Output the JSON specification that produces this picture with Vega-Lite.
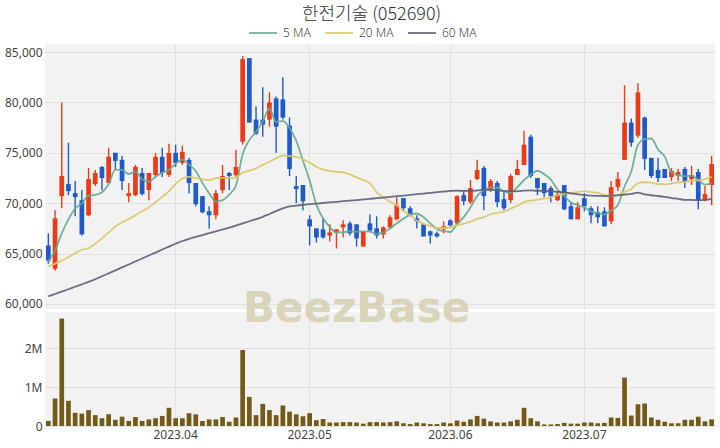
{
  "$schema": "https://vega.github.io/schema/vega-lite/v6.json",
  "background": "white",
  "padding": {"left": 0, "top": 6, "right": 5, "bottom": 3},
  "bounds": "flush",
  "title": {"text": "한전기술 (052690)", "anchor": "middle", "font": "Noto Sans CJK KR", "fontSize": 18, "fontWeight": 300, "color": "#333333", "offset": -6, "dx": 14},
  "datasets": {
    "d": [
      {"date":"2023-03-07","open":65800,"high":67000,"low":64000,"close":64300,"volume":130000,"ma5":64200,"ma20":63700,"ma60":60750},
      {"date":"2023-03-08","open":63500,"high":69300,"low":63300,"close":68500,"volume":710000,"ma5":65300,"ma20":64000,"ma60":60990},
      {"date":"2023-03-09","open":70700,"high":80000,"low":69500,"close":72700,"volume":2770000,"ma5":67000,"ma20":64300,"ma60":61230},
      {"date":"2023-03-10","open":71900,"high":76000,"low":70800,"close":71200,"volume":650000,"ma5":68400,"ma20":64630,"ma60":61460},
      {"date":"2023-03-13","open":71000,"high":72200,"low":68700,"close":70600,"volume":340000,"ma5":69460,"ma20":65040,"ma60":61710},
      {"date":"2023-03-14","open":70300,"high":71300,"low":66800,"close":66900,"volume":320000,"ma5":69980,"ma20":65380,"ma60":61950},
      {"date":"2023-03-15","open":68800,"high":73500,"low":68700,"close":72400,"volume":410000,"ma5":70760,"ma20":65540,"ma60":62190},
      {"date":"2023-03-16","open":71900,"high":73300,"low":71700,"close":73000,"volume":280000,"ma5":70820,"ma20":65970,"ma60":62450},
      {"date":"2023-03-17","open":73600,"high":73700,"low":71300,"close":72500,"volume":200000,"ma5":71080,"ma20":66510,"ma60":62750},
      {"date":"2023-03-20","open":72000,"high":75500,"low":72000,"close":74600,"volume":300000,"ma5":71880,"ma20":67100,"ma60":63040},
      {"date":"2023-03-21","open":75000,"high":75000,"low":73300,"close":74200,"volume":160000,"ma5":73340,"ma20":67690,"ma60":63330},
      {"date":"2023-03-22","open":74300,"high":74700,"low":71300,"close":72200,"volume":240000,"ma5":73300,"ma20":68090,"ma60":63630},
      {"date":"2023-03-23","open":70700,"high":72000,"low":70100,"close":71000,"volume":130000,"ma5":72900,"ma20":68440,"ma60":63920},
      {"date":"2023-03-24","open":70800,"high":73800,"low":70700,"close":73600,"volume":230000,"ma5":73120,"ma20":68810,"ma60":64220},
      {"date":"2023-03-27","open":73000,"high":73500,"low":70800,"close":70900,"volume":130000,"ma5":72380,"ma20":69200,"ma60":64510},
      {"date":"2023-03-28","open":71300,"high":73000,"low":70300,"close":73000,"volume":170000,"ma5":72140,"ma20":69590,"ma60":64810},
      {"date":"2023-03-29","open":72800,"high":75000,"low":72600,"close":74600,"volume":200000,"ma5":72620,"ma20":70100,"ma60":65100},
      {"date":"2023-03-30","open":74600,"high":75500,"low":72600,"close":73000,"volume":260000,"ma5":73020,"ma20":70630,"ma60":65400},
      {"date":"2023-03-31","open":72800,"high":75900,"low":72600,"close":75000,"volume":470000,"ma5":73300,"ma20":71190,"ma60":65690},
      {"date":"2023-04-03","open":75000,"high":75800,"low":73600,"close":74000,"volume":200000,"ma5":73920,"ma20":71910,"ma60":65980},
      {"date":"2023-04-04","open":74000,"high":75700,"low":73800,"close":75100,"volume":200000,"ma5":74340,"ma20":72450,"ma60":66250},
      {"date":"2023-04-05","open":74300,"high":74500,"low":71000,"close":72000,"volume":330000,"ma5":73820,"ma20":72625,"ma60":66470},
      {"date":"2023-04-06","open":72000,"high":72000,"low":69700,"close":69900,"volume":300000,"ma5":73200,"ma20":72485,"ma60":66660},
      {"date":"2023-04-07","open":70700,"high":70700,"low":69000,"close":69100,"volume":130000,"ma5":72020,"ma20":72380,"ma60":66840},
      {"date":"2023-04-10","open":69200,"high":69700,"low":67500,"close":68800,"volume":170000,"ma5":70980,"ma20":72290,"ma60":67020},
      {"date":"2023-04-11","open":68800,"high":71300,"low":68400,"close":71000,"volume":170000,"ma5":70160,"ma20":72495,"ma60":67200},
      {"date":"2023-04-12","open":71300,"high":73800,"low":71000,"close":72700,"volume":230000,"ma5":70300,"ma20":72510,"ma60":67390},
      {"date":"2023-04-13","open":73000,"high":73100,"low":71300,"close":72700,"volume":110000,"ma5":70860,"ma20":72495,"ma60":67570},
      {"date":"2023-04-14","open":72800,"high":75300,"low":72600,"close":73600,"volume":220000,"ma5":71760,"ma20":72550,"ma60":67770},
      {"date":"2023-04-17","open":76100,"high":84600,"low":75800,"close":84300,"volume":1960000,"ma5":74860,"ma20":73035,"ma60":67990},
      {"date":"2023-04-18","open":84400,"high":84400,"low":78000,"close":78000,"volume":750000,"ma5":76260,"ma20":73225,"ma60":68210},
      {"date":"2023-04-19","open":78300,"high":79600,"low":76800,"close":76900,"volume":280000,"ma5":77100,"ma20":73460,"ma60":68430},
      {"date":"2023-04-20","open":78300,"high":81500,"low":76600,"close":77800,"volume":570000,"ma5":78120,"ma20":73800,"ma60":68650},
      {"date":"2023-04-21","open":78300,"high":81000,"low":77600,"close":80000,"volume":410000,"ma5":79400,"ma20":74120,"ma60":68930},
      {"date":"2023-04-24","open":80400,"high":80600,"low":75000,"close":77600,"volume":280000,"ma5":78060,"ma20":74455,"ma60":69210},
      {"date":"2023-04-25","open":80300,"high":82500,"low":78300,"close":78500,"volume":530000,"ma5":78160,"ma20":74730,"ma60":69490},
      {"date":"2023-04-26","open":77700,"high":78500,"low":72700,"close":73400,"volume":370000,"ma5":77460,"ma20":74670,"ma60":69690},
      {"date":"2023-04-27","open":71700,"high":72700,"low":70000,"close":71400,"volume":300000,"ma5":76180,"ma20":74590,"ma60":69760},
      {"date":"2023-04-28","open":71800,"high":71800,"low":69300,"close":70200,"volume":250000,"ma5":74220,"ma20":74350,"ma60":69830},
      {"date":"2023-05-01","open":68400,"high":68800,"low":65800,"close":67700,"volume":330000,"ma5":72240,"ma20":74035,"ma60":69900},
      {"date":"2023-05-02","open":67500,"high":67500,"low":66100,"close":66600,"volume":150000,"ma5":69860,"ma20":73610,"ma60":69960},
      {"date":"2023-05-03","open":67400,"high":68500,"low":66500,"close":66600,"volume":180000,"ma5":68500,"ma20":73340,"ma60":70020},
      {"date":"2023-05-04","open":66800,"high":67900,"low":66200,"close":67100,"volume":90000,"ma5":67640,"ma20":73200,"ma60":70080},
      {"date":"2023-05-08","open":67100,"high":67400,"low":65500,"close":67400,"volume":90000,"ma5":67080,"ma20":73115,"ma60":70140},
      {"date":"2023-05-09","open":67600,"high":68300,"low":66600,"close":67900,"volume":100000,"ma5":67120,"ma20":73070,"ma60":70200},
      {"date":"2023-05-10","open":68000,"high":68200,"low":66800,"close":67000,"volume":100000,"ma5":67200,"ma20":72870,"ma60":70250},
      {"date":"2023-05-11","open":67900,"high":67900,"low":65700,"close":66500,"volume":90000,"ma5":67180,"ma20":72560,"ma60":70310},
      {"date":"2023-05-12","open":65700,"high":67200,"low":65700,"close":67200,"volume":60000,"ma5":67200,"ma20":72285,"ma60":70370},
      {"date":"2023-05-15","open":68000,"high":68900,"low":67200,"close":67300,"volume":100000,"ma5":67180,"ma20":71970,"ma60":70430},
      {"date":"2023-05-16","open":67500,"high":68700,"low":66500,"close":66800,"volume":100000,"ma5":66960,"ma20":71095,"ma60":70500},
      {"date":"2023-05-17","open":66900,"high":67700,"low":66500,"close":67600,"volume":90000,"ma5":67080,"ma20":70575,"ma60":70560},
      {"date":"2023-05-18","open":67600,"high":68800,"low":67500,"close":68600,"volume":100000,"ma5":67500,"ma20":70160,"ma60":70630},
      {"date":"2023-05-19","open":68400,"high":70600,"low":68300,"close":69800,"volume":120000,"ma5":68020,"ma20":69760,"ma60":70700},
      {"date":"2023-05-22","open":70500,"high":70500,"low":69200,"close":69500,"volume":70000,"ma5":68460,"ma20":69235,"ma60":70760},
      {"date":"2023-05-23","open":69500,"high":69700,"low":68700,"close":68800,"volume":50000,"ma5":68860,"ma20":68795,"ma60":70830},
      {"date":"2023-05-24","open":68500,"high":68800,"low":67500,"close":68200,"volume":90000,"ma5":68980,"ma20":68280,"ma60":70900},
      {"date":"2023-05-25","open":67900,"high":67900,"low":66700,"close":66700,"volume":70000,"ma5":68600,"ma20":67945,"ma60":70960},
      {"date":"2023-05-26","open":67200,"high":67300,"low":66000,"close":66800,"volume":50000,"ma5":68000,"ma20":67715,"ma60":71030},
      {"date":"2023-05-30","open":67000,"high":67200,"low":66600,"close":66700,"volume":50000,"ma5":67440,"ma20":67540,"ma60":71100},
      {"date":"2023-05-31","open":67400,"high":68200,"low":67000,"close":67700,"volume":90000,"ma5":67220,"ma20":67540,"ma60":71160},
      {"date":"2023-06-01","open":68300,"high":68400,"low":67700,"close":67800,"volume":70000,"ma5":67140,"ma20":67600,"ma60":71220},
      {"date":"2023-06-02","open":68000,"high":70800,"low":67900,"close":70700,"volume":140000,"ma5":67940,"ma20":67805,"ma60":71257},
      {"date":"2023-06-05","open":70800,"high":71300,"low":69800,"close":70200,"volume":110000,"ma5":68620,"ma20":67960,"ma60":71215},
      {"date":"2023-06-07","open":70100,"high":72300,"low":69900,"close":71500,"volume":170000,"ma5":69580,"ma20":68165,"ma60":71220},
      {"date":"2023-06-08","open":72400,"high":74300,"low":72300,"close":73300,"volume":260000,"ma5":70700,"ma20":68435,"ma60":71265},
      {"date":"2023-06-09","open":73500,"high":73700,"low":69300,"close":70700,"volume":190000,"ma5":71280,"ma20":68620,"ma60":71328},
      {"date":"2023-06-12","open":71300,"high":72400,"low":71100,"close":72200,"volume":120000,"ma5":71580,"ma20":68905,"ma60":71325},
      {"date":"2023-06-13","open":72000,"high":72200,"low":69600,"close":70100,"volume":90000,"ma5":71560,"ma20":69050,"ma60":71277},
      {"date":"2023-06-14","open":70400,"high":71200,"low":69300,"close":69500,"volume":90000,"ma5":71160,"ma20":69160,"ma60":71227},
      {"date":"2023-06-15","open":70300,"high":72900,"low":70000,"close":72700,"volume":120000,"ma5":71040,"ma20":69455,"ma60":71195},
      {"date":"2023-06-16","open":72800,"high":74300,"low":72800,"close":73400,"volume":160000,"ma5":71580,"ma20":69745,"ma60":71182},
      {"date":"2023-06-19","open":73800,"high":77200,"low":73800,"close":75800,"volume":470000,"ma5":72300,"ma20":70105,"ma60":71242},
      {"date":"2023-06-20","open":76600,"high":76800,"low":72500,"close":72700,"volume":200000,"ma5":72820,"ma20":70250,"ma60":71270},
      {"date":"2023-06-21","open":72500,"high":72500,"low":70800,"close":71500,"volume":120000,"ma5":73220,"ma20":70350,"ma60":71235},
      {"date":"2023-06-22","open":72000,"high":72000,"low":70600,"close":71000,"volume":40000,"ma5":72880,"ma20":70460,"ma60":71237},
      {"date":"2023-06-23","open":71500,"high":71700,"low":70100,"close":70700,"volume":40000,"ma5":72340,"ma20":70585,"ma60":71198},
      {"date":"2023-06-26","open":70300,"high":71200,"low":70200,"close":70900,"volume":50000,"ma5":71360,"ma20":70795,"ma60":71137},
      {"date":"2023-06-27","open":71800,"high":71800,"low":69300,"close":69400,"volume":80000,"ma5":70700,"ma20":70925,"ma60":71077},
      {"date":"2023-06-28","open":69700,"high":70100,"low":68400,"close":68400,"volume":60000,"ma5":70080,"ma20":71010,"ma60":70967},
      {"date":"2023-06-29","open":68400,"high":70100,"low":68400,"close":69600,"volume":60000,"ma5":69800,"ma20":71105,"ma60":70893},
      {"date":"2023-07-03","open":70500,"high":71000,"low":69200,"close":69700,"volume":90000,"ma5":69600,"ma20":71200,"ma60":70803},
      {"date":"2023-07-04","open":69500,"high":69700,"low":68000,"close":68800,"volume":90000,"ma5":69180,"ma20":71105,"ma60":70750},
      {"date":"2023-07-05","open":69100,"high":69700,"low":68000,"close":68600,"volume":70000,"ma5":69020,"ma20":71025,"ma60":70728},
      {"date":"2023-07-06","open":69200,"high":69600,"low":67700,"close":67700,"volume":80000,"ma5":68880,"ma20":70835,"ma60":70705},
      {"date":"2023-07-07","open":68200,"high":72200,"low":67900,"close":71600,"volume":220000,"ma5":69280,"ma20":70750,"ma60":70752},
      {"date":"2023-07-10","open":71600,"high":73100,"low":71200,"close":72400,"volume":210000,"ma5":69820,"ma20":70835,"ma60":70775},
      {"date":"2023-07-11","open":74300,"high":81700,"low":74300,"close":78000,"volume":1250000,"ma5":71660,"ma20":71125,"ma60":70863},
      {"date":"2023-07-12","open":78000,"high":78400,"low":75600,"close":76000,"volume":270000,"ma5":73140,"ma20":71420,"ma60":70918},
      {"date":"2023-07-13","open":76700,"high":81900,"low":76500,"close":81000,"volume":560000,"ma5":75800,"ma20":71995,"ma60":71042},
      {"date":"2023-07-14","open":78500,"high":78600,"low":73300,"close":74400,"volume":580000,"ma5":76360,"ma20":72080,"ma60":70877},
      {"date":"2023-07-17","open":74500,"high":74500,"low":72500,"close":72700,"volume":220000,"ma5":76420,"ma20":72045,"ma60":70788},
      {"date":"2023-07-18","open":73300,"high":74500,"low":72100,"close":72500,"volume":160000,"ma5":75320,"ma20":71880,"ma60":70715},
      {"date":"2023-07-19","open":73400,"high":73400,"low":72500,"close":72500,"volume":110000,"ma5":74620,"ma20":71870,"ma60":70627},
      {"date":"2023-07-20","open":72600,"high":73500,"low":72200,"close":73200,"volume":70000,"ma5":73060,"ma20":71955,"ma60":70513},
      {"date":"2023-07-21","open":72700,"high":73400,"low":72200,"close":73100,"volume":70000,"ma5":72800,"ma20":72060,"ma60":70438},
      {"date":"2023-07-24","open":73400,"high":73600,"low":71500,"close":72100,"volume":160000,"ma5":72680,"ma20":72130,"ma60":70332},
      {"date":"2023-07-25","open":72400,"high":73700,"low":71800,"close":72800,"volume":160000,"ma5":72740,"ma20":72225,"ma60":70322},
      {"date":"2023-07-26","open":73100,"high":73400,"low":69400,"close":70300,"volume":240000,"ma5":72300,"ma20":72270,"ma60":70303},
      {"date":"2023-07-27","open":70300,"high":71700,"low":70200,"close":70900,"volume":120000,"ma5":71840,"ma20":72395,"ma60":70315},
      {"date":"2023-07-28","open":71800,"high":74700,"low":69800,"close":73900,"volume":170000,"ma5":72000,"ma20":72610,"ma60":70418}
    ],
    "mark": [{"label": "BeezBase"}]
  },
  "data": {"name": "d"},
  "spacing": 3,
  "vconcat": [
    {
      "width": 670,
      "height": 265,
      "encoding": {
        "x": {"field": "date", "type": "ordinal", "scale": {"paddingInner": 0, "paddingOuter": 0},
              "axis": {"values": ["2023-04-03","2023-05-01","2023-06-01","2023-07-03"], "labels": false, "ticks": false, "domain": false, "grid": true, "minExtent": 0, "maxExtent": 0, "title": null}}
      },
      "layer": [
        {
          "mark": {"type": "rule", "strokeWidth": 1.4},
          "encoding": {
            "y": {"field": "low", "type": "quantitative", "scale": {"domain": [59500, 85800], "nice": false, "zero": false},
                  "axis": {"values": [60000, 65000, 70000, 75000, 80000, 85000], "format": ",d", "title": null, "minExtent": 45, "maxExtent": 45}},
            "y2": {"field": "high"},
            "color": {"condition": {"test": "datum.close >= datum.open", "value": "#ec3a17"}, "value": "#1f5ac9"}
          }
        },
        {
          "mark": {"type": "bar", "width": {"band": 0.7}},
          "encoding": {
            "y": {"field": "open", "type": "quantitative"},
            "y2": {"field": "close"},
            "color": {"condition": {"test": "datum.close >= datum.open", "value": "#ec3a17"}, "value": "#1f5ac9"}
          }
        },
        {
          "transform": [{"fold": ["ma5", "ma20", "ma60"], "as": ["series", "ma"]}],
          "mark": {"type": "line", "interpolate": "monotone", "opacity": 0.9},
          "encoding": {
            "y": {"field": "ma", "type": "quantitative"},
            "color": {"field": "series", "type": "nominal",
                      "scale": {"domain": ["ma5", "ma20", "ma60"], "range": ["#66a88f", "#d9c766", "#5a5f7a"]},
                      "legend": {"labelExpr": "datum.label == 'ma5' ? '5 MA' : datum.label == 'ma20' ? '20 MA' : '60 MA'", "orient": "none", "legendX": 203, "legendY": -26}},
            "strokeWidth": {"field": "series", "type": "nominal", "scale": {"domain": ["ma5", "ma20", "ma60"], "range": [1.8, 1.8, 2.4]}, "legend": null}
          }
        }
      ]
    },
    {
      "width": 670,
      "height": 114,
      "encoding": {
        "x": {"field": "date", "type": "ordinal", "scale": {"paddingInner": 0, "paddingOuter": 0},
              "axis": {"values": ["2023-04-03","2023-05-01","2023-06-01","2023-07-03"], "labelExpr": "replace(substring(datum.label, 0, 7), '-', '.')", "labelAngle": 0, "labelPadding": 3, "ticks": false, "domain": false, "grid": true, "title": null}}
      },
      "layer": [
        {
          "mark": {"type": "bar", "width": {"band": 0.7}, "color": "#735a18"},
          "encoding": {
            "y": {"field": "volume", "type": "quantitative", "scale": {"domain": [0, 2940000], "nice": false},
                  "axis": {"values": [0, 1000000, 2000000], "format": "~s", "labelExpr": "datum.value == 0 ? '0' : datum.label", "title": null, "minExtent": 45, "maxExtent": 45}}
          }
        },
        {
          "data": {"name": "mark"},
          "mark": {"type": "text", "font": "DejaVu Sans", "fontWeight": "bold", "fontSize": 42, "color": "#d8d1b4", "opacity": 0.9, "baseline": "alphabetic", "align": "center"},
          "encoding": {
            "x": {"datum": "2023-05-11", "type": "ordinal"},
            "y": {"datum": 2674000, "type": "quantitative"},
            "text": {"field": "label"}
          }
        }
      ]
    }
  ],
  "config": {
    "view": {"fill": "#f2f2f2", "stroke": null},
    "font": "Noto Sans",
    "axis": {"domain": false, "ticks": false, "gridColor": "#e1e1e1", "gridWidth": 1, "labelFont": "Noto Sans", "labelFontSize": 12, "labelColor": "#444444", "labelPadding": 3},
    "legend": {"direction": "horizontal", "title": null, "symbolType": "stroke", "symbolSize": 784, "symbolStrokeWidth": 2, "labelFont": "Noto Sans", "labelFontSize": 12, "labelFontWeight": 300, "labelColor": "#444444", "padding": 0, "columnPadding": 10, "labelOffset": 5}
  }
}
